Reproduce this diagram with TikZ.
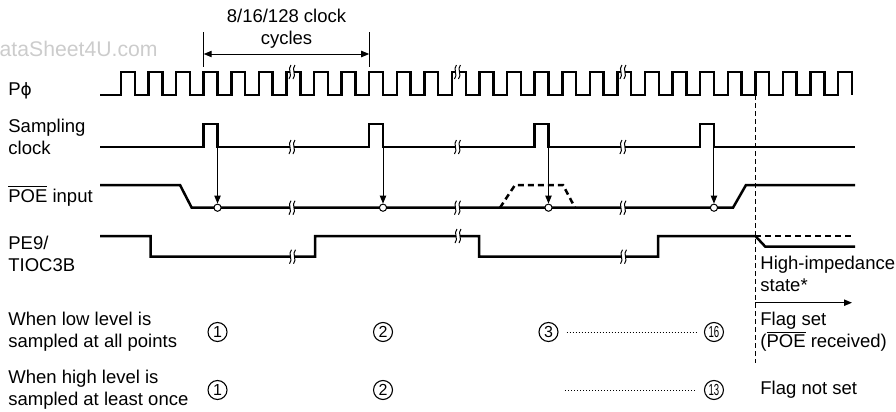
\documentclass[tikz,border=0pt]{standalone}
\usepackage{graphicx}
\usepackage{fontspec}
\setmainfont{Liberation Sans}
\newfontfamily\greekfont{DejaVu Sans}
\usetikzlibrary{calc, arrows.meta}

\newcommand{\ovl}[1]{$\overline{\mbox{#1}}$}
\newcommand{\breakmark}[2]{%
  \fill[white] ({#1-2},{#2-3}) rectangle ({#1+2},{#2+3});
  \draw[line width=0.5pt] ({#1-1},{#2-7}) .. controls ({#1-5},{#2-3}) and ({#1+1},{#2+3}) .. ({#1-3},{#2+7});
  \draw[line width=0.5pt] ({#1+3},{#2-7}) .. controls ({#1-1},{#2-3}) and ({#1+5},{#2+3}) .. ({#1+1},{#2+7});
}

\tikzset{
  sig/.style={line width=1.25pt, line join=miter},
  sigdash/.style={sig, dash pattern=on 3pt off 2pt},
  guide/.style={line width=0.5pt, dash pattern=on 2.5pt off 1.5pt},
  samp/.style={line width=0.5pt, -{Triangle[length=4pt,width=3.2pt]}},
  dot/.style={circle, draw, fill=white, line width=0.5pt, inner sep=0pt, minimum size=3.6pt},
  lbl/.style={anchor=west, align=left, inner sep=0pt, font=\fontsize{9.25}{11}\selectfont},
  cnum/.style={circle, draw, line width=0.55pt, inner sep=0pt, minimum size=9.5pt, font=\fontsize{8}{8}\selectfont},
  dots/.style={line width=0.5pt, dash pattern=on 0.5pt off 1pt},
}

\begin{document}
\begin{tikzpicture}[x=0.5pt, y=-0.5pt]
\useasboundingbox (0,0) rectangle (896,412);
\pgfmathsetmacro{\per}{27.58}
\def\xo{121}

% Watermark
\node[anchor=east, inner sep=0pt, text=black!20, font=\fontsize{10.6}{12}\selectfont] (wmark) at (158,49) {DataSheet4U.com};

% Signal names
\node[lbl, anchor=base west] (phi) at (8,95) {P{\greekfont\fontsize{8.5}{10}\selectfont ϕ}};
\node[lbl] (sclk) at (8,137) {Sampling\\clock};
\node[lbl] (poe) at (8,196) {\ovl{POE} input};
\node[lbl] (pe9) at (8,254) {PE9/\\TIOC3B};
\node[lbl] (low) at (8,332) {When low level is\\sampled at all points};
\node[lbl] (high) at (8,390) {When high level is\\sampled at least once};

% Clock
\draw[sig] (100,95) foreach \k in {0,...,26} { -- ({\xo+\k*\per},95) -- ({\xo+\k*\per},72) -- ({\xo+(\k+0.5)*\per},72) -- ({\xo+(\k+0.5)*\per},95) };

% Cycle count
\coordinate (cycA) at ({\xo+3*\per},54);
\coordinate (cycB) at ({\xo+9*\per},54);
\draw[line width=0.5pt] ($(cycA)+(0,-22)$) -- ($(cycA)+(0,13)$);
\draw[line width=0.5pt] ($(cycB)+(0,-22)$) -- ($(cycB)+(0,13)$);
\draw[line width=0.5pt, {Triangle[length=4pt,width=3.2pt]}-{Triangle[length=4pt,width=3.2pt]}] (cycA) -- (cycB);
\node[align=center, inner sep=0pt, font=\fontsize{9.25}{11}\selectfont] (cyc) at ({\xo+6*\per},29) {8/16/128 clock\\cycles};

% Sampling clock
\draw[sig] (100,147) foreach \k in {3,9,15,21} { -- ({\xo+\k*\per},147) -- ({\xo+\k*\per},124) -- ({\xo+(\k+0.5)*\per},124) -- ({\xo+(\k+0.5)*\per},147) } -- (855,147);
\foreach \k/\n in {3/1,9/2,15/3,21/4}
  \coordinate (fall\n) at ({\xo+(\k+0.5)*\per},147);

% POE input
\draw[sig] (100,185) -- (180,185) -- (191.7,207.7) -- (733,207.7) -- (746,185) -- (855,185);
\draw[sigdash] (500,207.7) -- (515,185) -- (563,185) -- (575,207.7);

% PE9/TIOC3B
\coordinate (hiz) at ({\xo+23*\per},236);
\draw[sig] (100,236) -- (150.7,236) -- (150.7,256.7) -- (315,256.7) -- (315,236) -- (479,236) -- (479,256.7) -- (658,256.7) -- (658,236) -- (hiz) -- ($(hiz)+(10,10.7)$) -- (855,246.7);
\draw[sigdash] (hiz) -- (855,236);

% Breaks
\foreach \b in {1,2,3} {
  \pgfmathsetmacro{\xb}{\xo+6*\b*\per+5.5}
  \breakmark{\xb}{72}
  \breakmark{\xb}{147}
  \breakmark{\xb}{207.7}
}
\breakmark{292.5}{256.7}
\breakmark{458}{236}
\breakmark{623.5}{256.7}

% Sampling points
\foreach \n in {1,...,4} {
  \node[dot] (smp\n) at (fall\n |- 0,207.7) {};
  \draw[samp] (fall\n) -- (smp\n.north);
}

% Flag line
\draw[guide] ($(hiz)+(0,-141)$) -- ($(hiz)+(0,127)$);
\coordinate (hzL) at ($(hiz)+(0,66.7)$);
\coordinate (hzR) at (852,302.7);
\draw[line width=0.5pt, -{Triangle[length=4pt,width=3.2pt]}] (hzL) -- (hzR);
\node[lbl] (hzt) at (760,274) {High-impedance\\state*};
\node[lbl] (fset) at (760,332) {Flag set\\(\ovl{POE} received)};
\node[lbl] (fnot) at (760,390) {Flag not set};

% Sampled counts
\node[cnum] (a1) at (fall1 |- 0,332) {1};
\node[cnum] (a2) at (fall2 |- 0,332) {2};
\node[cnum] (a3) at (fall3 |- 0,332) {3};
\node[cnum] (a16) at (fall4 |- 0,332) {\scalebox{0.6}[1]{16}};
\node[cnum] (b1) at (fall1 |- 0,390) {1};
\node[cnum] (b2) at (fall2 |- 0,390) {2};
\node[cnum] (b13) at (fall4 |- 0,390) {\scalebox{0.6}[1]{13}};
\coordinate (bdot) at (565,390);
\draw[dots, shorten <=4pt, shorten >=4pt] (a3) -- (a16);
\draw[dots, shorten >=4pt] (bdot) -- (b13);
\end{tikzpicture}
\end{document}
